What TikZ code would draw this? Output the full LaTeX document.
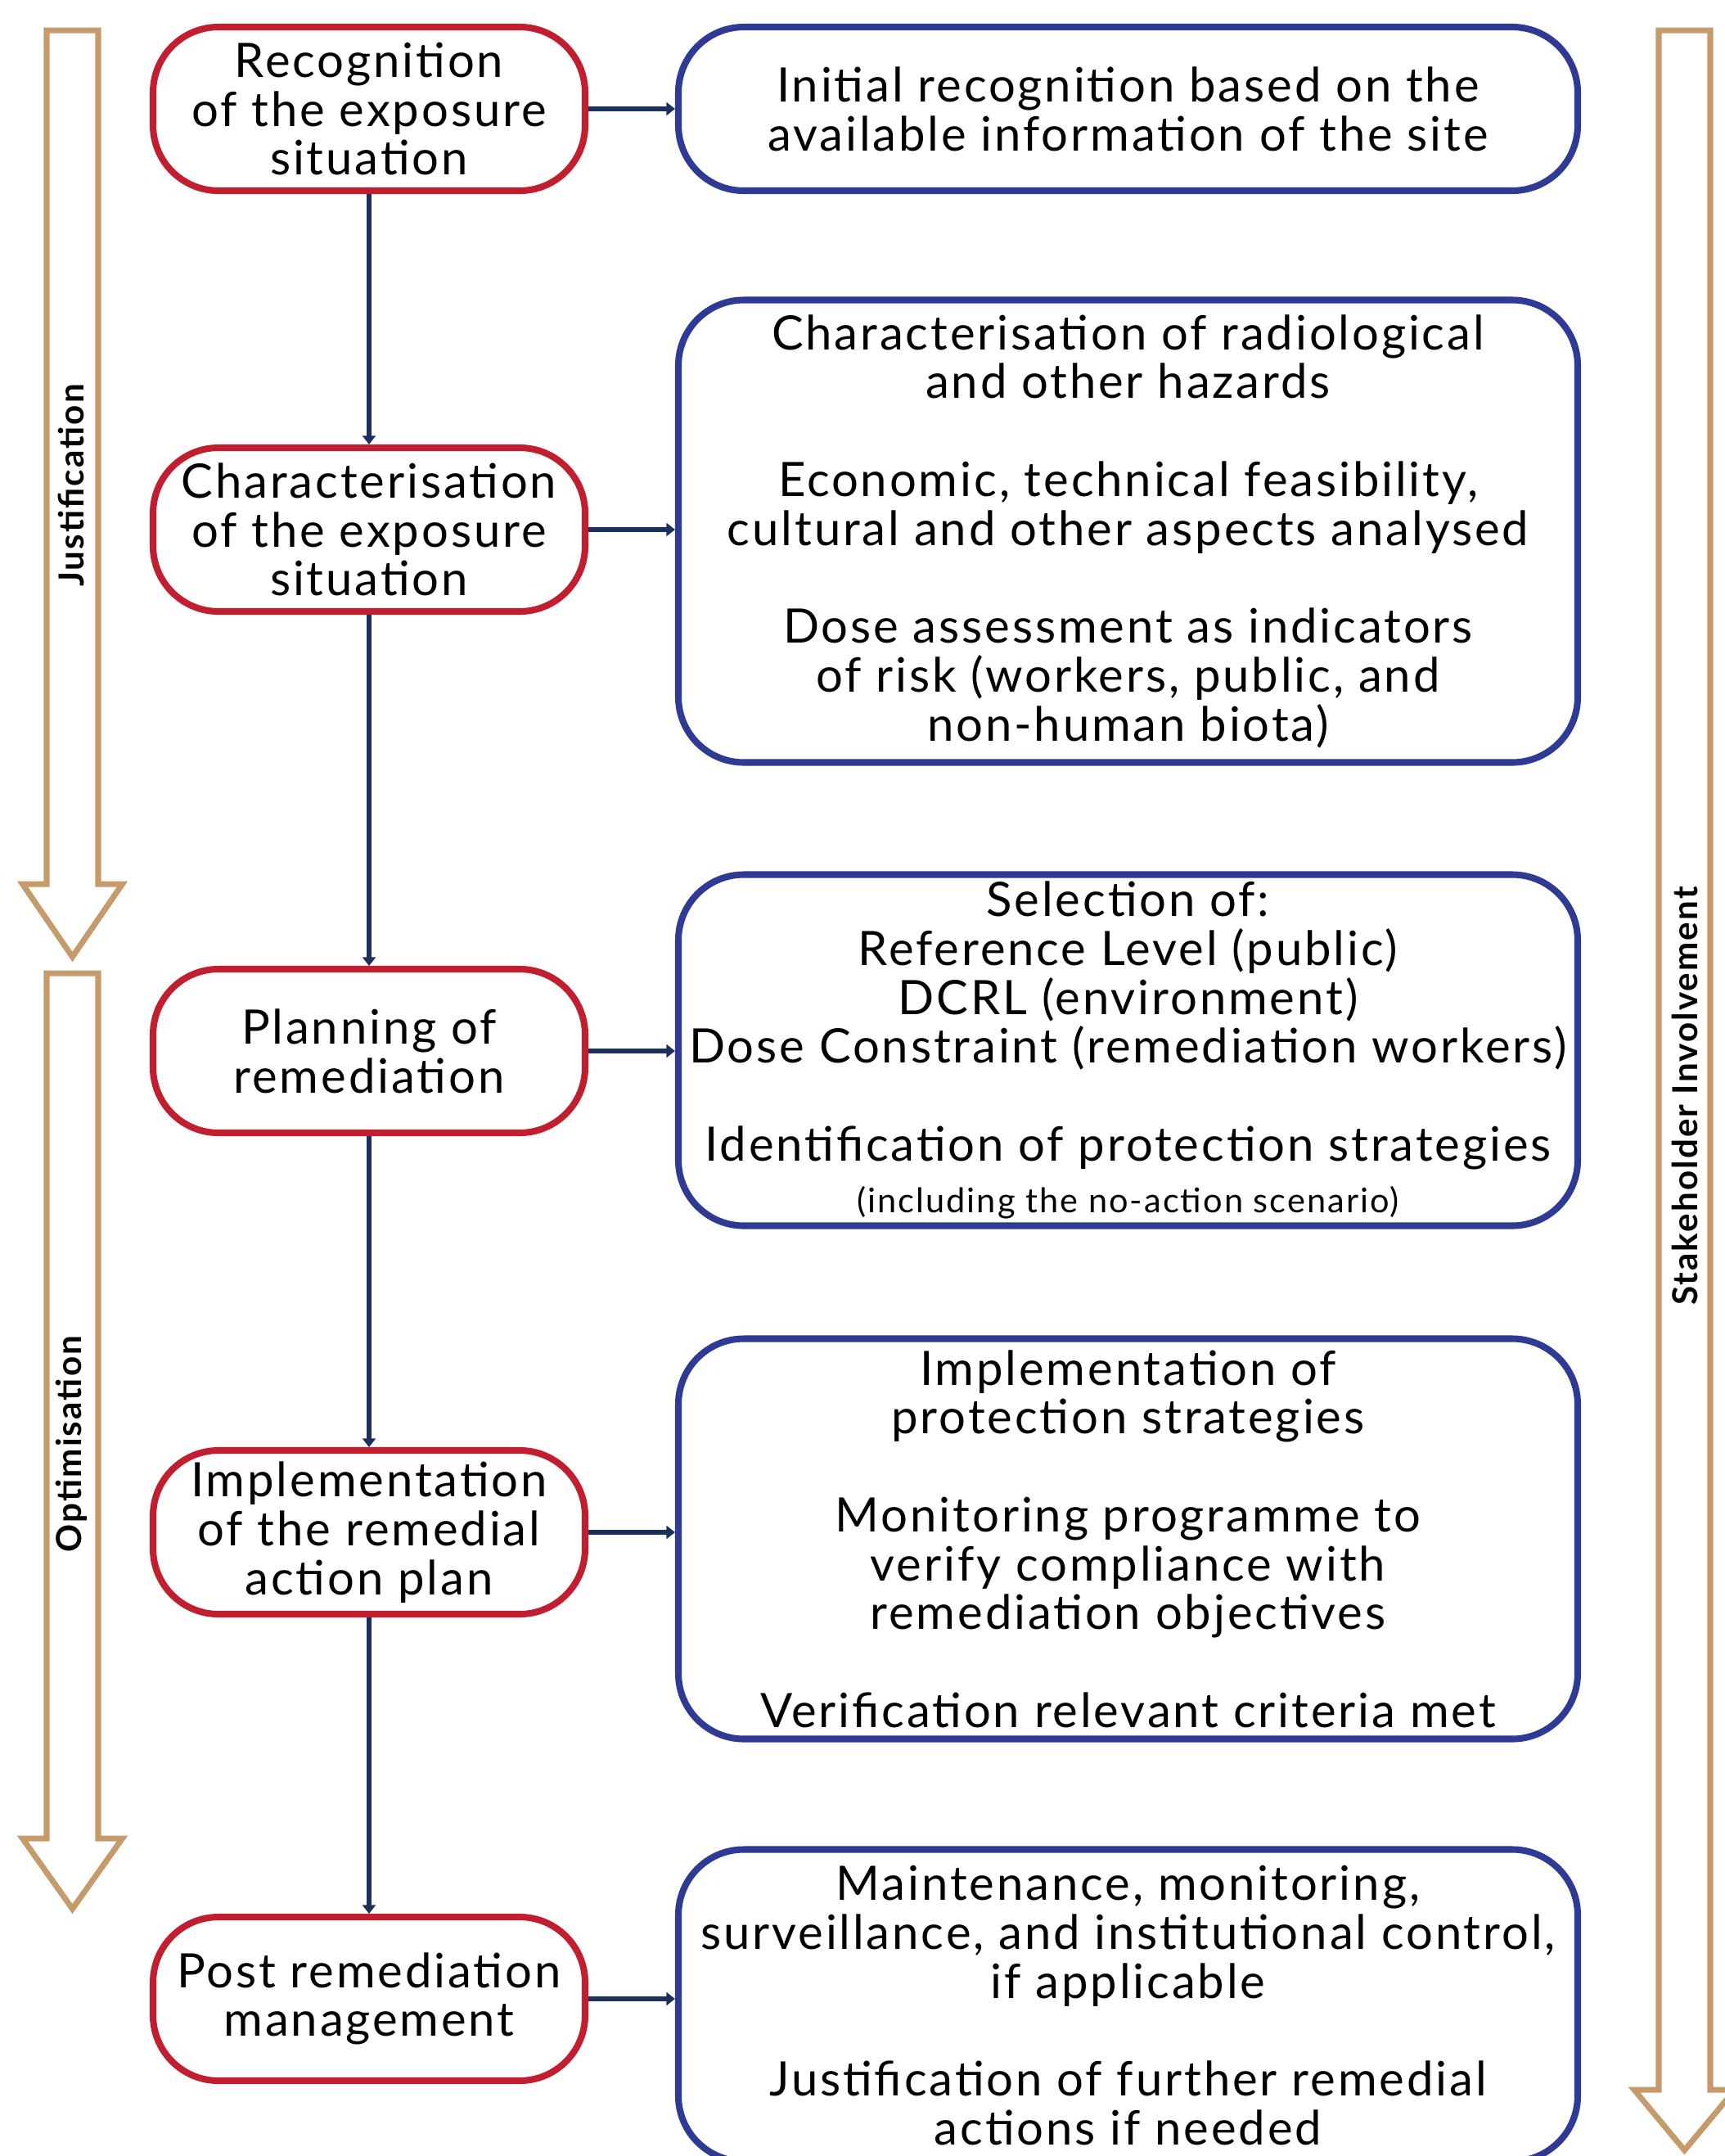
\documentclass[tikz,border=0pt]{standalone}
\usepackage{fontspec}
\setmainfont{Lato}[LetterSpace=5]
\usetikzlibrary{arrows.meta,positioning}

\definecolor{stagered}{RGB}{193,31,48}
\definecolor{detailblue}{RGB}{46,58,148}
\definecolor{linknavy}{RGB}{28,48,94}
\definecolor{phasetan}{RGB}{198,155,108}

\newcommand{\mainsize}{\fontsize{16.5}{17}\selectfont}
\newcommand{\notesize}{\fontsize{11.8}{14}\selectfont}
\newcommand{\phasesize}{\fontsize{12}{13}\selectfont\bfseries}

\begin{document}
\begin{tikzpicture}[
  stage/.style={draw=stagered, line width=2.3pt, rounded corners=0.8cm, minimum width=5.28cm, minimum height=2cm, align=center, inner sep=0pt, font=\mainsize},
  detail/.style={draw=detailblue, line width=2.3pt, rounded corners=0.8cm, minimum width=10.99cm, align=center, inner sep=0pt, font=\mainsize},
  link/.style={draw=linknavy, line width=1.9pt, ->},
  phasearrow/.style={draw=phasetan, line width=2pt},
  phase/.style={rotate=90, font=\phasesize},
  >={Triangle[length=3pt,width=4.5pt]}
]
\useasboundingbox (0,0) rectangle (21.08,-26.34);
\clip (0,0) rectangle (21.08,-26.34);

% phases
\draw [phasearrow] (0.57,-0.37) -- (1.20,-0.37) -- (1.20,-10.80) -- (1.495,-10.80) -- (0.885,-11.69) -- (0.275,-10.80) -- (0.57,-10.80) -- cycle;
\draw [phasearrow] (0.57,-11.89) -- (1.20,-11.89) -- (1.20,-22.46) -- (1.495,-22.46) -- (0.885,-23.32) -- (0.275,-22.46) -- (0.57,-22.46) -- cycle;
\draw [phasearrow] (20.27,-0.37) -- (20.90,-0.37) -- (20.90,-25.53) -- (21.20,-25.53) -- (20.585,-26.27) -- (19.97,-25.53) -- (20.27,-25.53) -- cycle;
\node [phase] (justif) at (0.87,-5.93) {Justification};
\node [phase] (optim) at (0.87,-17.64) {Optimisation};
\node [phase] (stake) at (20.59,-13.39) {Stakeholder Involvement};

% stages
\node [stage] (recog) at (4.51,-1.33) {Recognition\\of the exposure\\situation};
\node [stage] (charac) at (4.51,-6.47) {Characterisation\\of the exposure\\situation};
\node [stage] (plan) at (4.51,-12.84) {Planning of\\remediation};
\node [stage] (impl) at (4.51,-18.72) {Implementation\\of the remedial\\action plan};
\node [stage] (post) at (4.51,-24.42) {Post remediation\\management};

% details
\node [detail, minimum height=2cm] (initial) at (13.785,-1.33) {Initial recognition based on the\\available information of the site};
\node [detail, minimum height=5.65cm] (hazards) at (13.785,-6.49) {Characterisation of radiological\\and other hazards\\[17pt]Economic, technical feasibility,\\cultural and other aspects analysed\\[17pt]Dose assessment as indicators\\of risk (workers, public, and\\non-human biota)};
\node [detail, minimum height=4.29cm] (select) at (13.785,-12.83) {Selection of:\\Reference Level (public)\\DCRL (environment)\\Dose Constraint (remediation workers)\\[17pt]Identification of protection strategies\\[1pt]{\notesize (including the no-action scenario)}};
\node [detail, minimum height=4.89cm] (protect) at (13.785,-18.80) {Implementation of\\protection strategies\\[17pt]Monitoring programme to\\verify compliance with\\remediation objectives\\[17pt]Verification relevant criteria met};
\node [detail, minimum height=3.81cm] (maintain) at (13.785,-24.50) {Maintenance, monitoring,\\surveillance, and institutional control,\\if applicable\\[17pt]Justification of further remedial\\actions if needed};

\path (recog) edge [link] (charac);
\path (charac) edge [link] (plan);
\path (plan) edge [link] (impl);
\path (impl) edge [link] (post);

\path (recog.east) edge [link] (recog.east -| initial.west);
\path (charac.east) edge [link] (charac.east -| hazards.west);
\path (plan.east) edge [link] (plan.east -| select.west);
\path (impl.east) edge [link] (impl.east -| protect.west);
\path (post.east) edge [link] (post.east -| maintain.west);
\end{tikzpicture}
\end{document}
